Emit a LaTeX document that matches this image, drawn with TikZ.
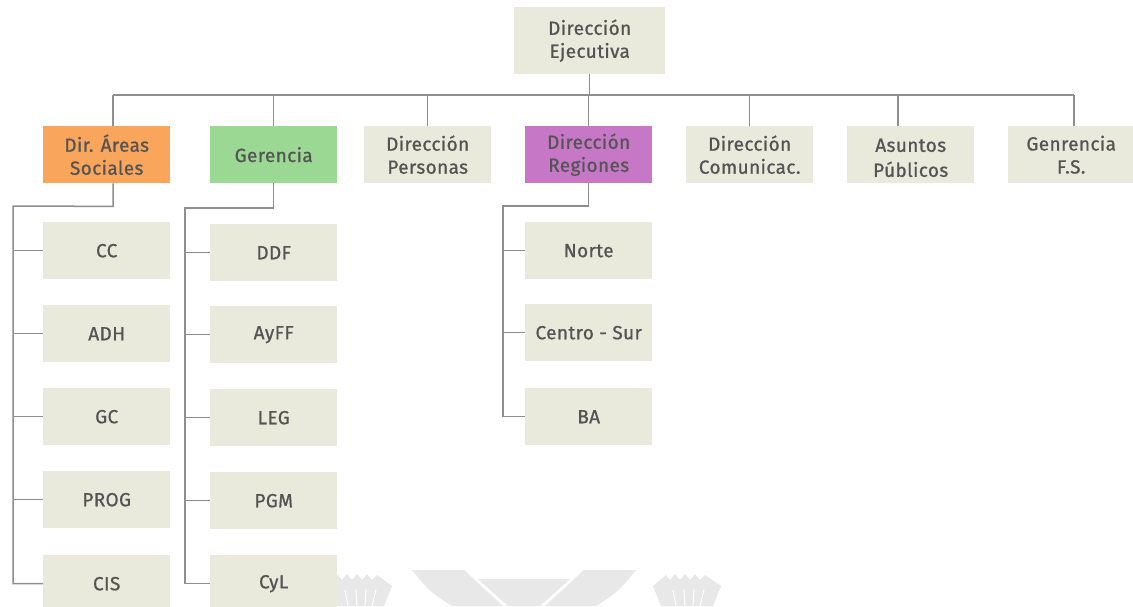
\documentclass[tikz,border=0pt]{standalone}
\usepackage{fontspec}
\setmainfont{Fira Sans}
\newfontfamily\boxfont{Fira Sans}[FakeBold=0.8,LetterSpace=2]
\definecolor{boxfill}{HTML}{E9E9DC}
\definecolor{orangefill}{HTML}{F9A55B}
\definecolor{greenfill}{HTML}{9AD894}
\definecolor{purplefill}{HTML}{C677C6}
\definecolor{txt}{HTML}{545454}
\definecolor{linec}{HTML}{8E8E8E}
\definecolor{wm}{HTML}{E8E8E8}
\begin{document}
\begin{tikzpicture}[x=1pt,y=-1pt,
  box/.style={fill=boxfill,draw=none,minimum width=127pt,minimum height=57pt,inner sep=0pt,
    anchor=north west,align=center,text=txt,font=\boxfont\fontsize{19}{23}\selectfont},
  conn/.style={draw=linec,line width=1.5pt}]
\useasboundingbox (0,0) rectangle (1133,606);
\fill[white] (0,0) rectangle (1133,606);

% watermark
\begin{scope}
\fill[wm] (325,586) -- (338,575) -- (342,580) -- (347,574) -- (352,580) -- (357,574) -- (362,580) -- (367,574) -- (372,580) -- (377,575) -- (392,586) -- (384,606) -- (333,606) -- cycle;
\fill[wm] (653,586) -- (666,575) -- (670,580) -- (675,574) -- (680,580) -- (685,574) -- (690,580) -- (695,574) -- (700,580) -- (705,575) -- (721,586) -- (713,606) -- (661,606) -- cycle;
\draw[white,line width=1pt] (345,590) -- (348,606) (356,589) -- (357,606) (366,589) -- (365,606) (376,590) -- (372,606);
\draw[white,line width=1pt] (673,590) -- (676,606) (684,589) -- (685,606) (694,589) -- (693,606) (704,590) -- (700,606);
\fill[wm] (412,570) -- (464,570) -- (503,606) -- (452,606) .. controls (430,592) .. (412,570) -- cycle;
\fill[wm] (636,570) -- (584,570) -- (545,606) -- (596,606) .. controls (618,592) .. (636,570) -- cycle;
\fill[wm] (478,579) -- (570,579) -- (540,606) -- (508,606) -- cycle;
\end{scope}

% top
\node[box,minimum width=151pt,minimum height=67pt] (exec) at (514,7) {Dirección\\Ejecutiva};

\node[box,fill=orangefill] (areas) at (43,126) {Dir. Áreas\\Sociales};
\node[box,fill=greenfill] (ger) at (210,126) {Gerencia};
\node[box] (pers) at (364,126) {Dirección\\Personas};
\node[box,fill=purplefill] (reg) at (525,126) {Dirección\\Regiones};
\node[box] (com) at (686,126) {Dirección\\Comunicac.};
\node[box] (asu) at (847,126) {\raisebox{-5pt}[\height][\depth]{\begin{tabular}{@{}c@{}}Asuntos\\[2pt]Públicos\end{tabular}}};
\node[box,minimum width=126pt] (gfs) at (1008,126) {Genrencia\\F.S.};

% children areas
\node[box] (cc) at (43,222) {CC};
\node[box] (adh) at (43,305) {ADH};
\node[box] (gc) at (43,388) {GC};
\node[box] (prog) at (43,471) {PROG};
\node[box] (cis) at (43,555) {CIS};
% children gerencia
\node[box] (ddf) at (210,224) {DDF};
\node[box] (ayff) at (210,306) {AyFF};
\node[box] (leg) at (210,389) {LEG};
\node[box] (pgm) at (210,472) {PGM};
\node[box] (cyl) at (210,555) {CyL};
% children regiones
\node[box] (nor) at (525,222) {Norte};
\node[box] (cs) at (525,304) {Centro - Sur};
\node[box] (ba) at (525,388) {BA};

% top connectors
\coordinate (hL) at (113,95);
\coordinate (hR) at (1074,95);
\draw[conn] (hL) -- (hR);
\draw[conn] (exec.south) -- (exec.south |- hL);
\draw[conn] ([xshift=6.5pt]areas.north) -- ++(0,-31);
\draw[conn] (ger.north) -- ++(0,-31);
\draw[conn] (pers.north) -- ++(0,-31);
\draw[conn] (reg.north) -- ++(0,-31);
\draw[conn] (com.north) -- ++(0,-31);
\draw[conn] ([xshift=-12.5pt]asu.north) -- ++(0,-31);
\draw[conn] ([xshift=3pt]gfs.north) -- ++(0,-31);

% areas trunk
\coordinate (tA) at (13,206);
\draw[conn] ([xshift=6.5pt]areas.south) -- ++(0,23) -- (tA) -- (tA |- cis.west) -- (cis.west);
\foreach \n in {cc,adh,gc,prog} \draw[conn] (tA |- \n.west) -- (\n.west);

% gerencia trunk
\coordinate (tG) at (185,208);
\draw[conn] (ger.south) -- (ger.south |- tG) -- (tG) -- (tG |- cyl.west) -- (cyl.west);
\foreach \n in {ddf,ayff,leg,pgm} \draw[conn] (tG |- \n.west) -- (\n.west);

% regiones trunk
\coordinate (tR) at (503,206);
\draw[conn] (reg.south) -- (reg.south |- tR) -- (tR) -- (tR |- ba.west) -- (ba.west);
\foreach \n in {nor,cs} \draw[conn] (tR |- \n.west) -- (\n.west);
\end{tikzpicture}
\end{document}
